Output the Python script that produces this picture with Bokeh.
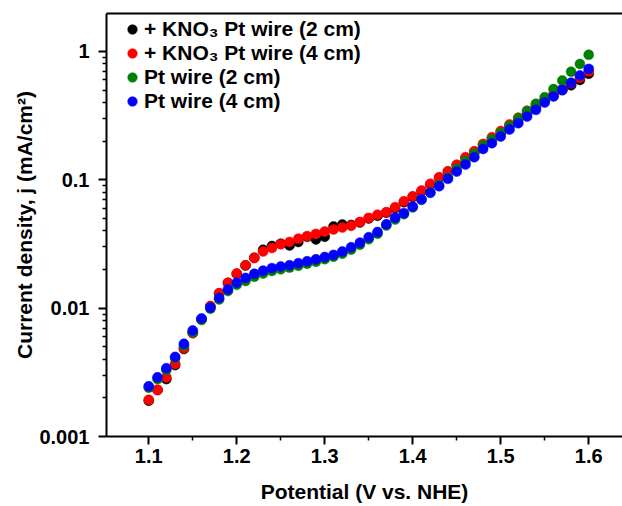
from bokeh.plotting import figure
from bokeh.models import (FixedTicker, LinearAxis, Legend, LegendItem, Range1d,
                          PrintfTickFormatter, ColumnDataSource)
from bokeh.embed import file_html
from bokeh.resources import INLINE

potential = [1.10, 1.11, 1.12, 1.13, 1.14, 1.15, 1.16, 1.17, 1.18, 1.19,
             1.20, 1.21, 1.22, 1.23, 1.24, 1.25, 1.26, 1.27, 1.28, 1.29,
             1.30, 1.31, 1.32, 1.33, 1.34, 1.35, 1.36, 1.37, 1.38, 1.39,
             1.40, 1.41, 1.42, 1.43, 1.44, 1.45, 1.46, 1.47, 1.48, 1.49,
             1.50, 1.51, 1.52, 1.53, 1.54, 1.55, 1.56, 1.57, 1.58, 1.59,
             1.60]

kno3_2cm = [0.0019, 0.0023, 0.0028, 0.0036, 0.0048, 0.0064, 0.0082, 0.0103, 0.0130, 0.0157,
            0.0185, 0.0215, 0.0247, 0.0285, 0.0305, 0.0318, 0.0308, 0.0328, 0.0360, 0.0343,
            0.0360, 0.0432, 0.0448, 0.0445, 0.0465, 0.0500, 0.0525, 0.0555, 0.0600, 0.0670,
            0.0735, 0.0815, 0.0920, 0.1035, 0.1155, 0.1300, 0.1480, 0.1650, 0.1870, 0.2080,
            0.2330, 0.2630, 0.2960, 0.3320, 0.3700, 0.4150, 0.4550, 0.5000, 0.5450, 0.6000,
            0.6700]

kno3_4cm = [0.00193, 0.00231, 0.00289, 0.00368, 0.00487, 0.0064, 0.0082, 0.0104, 0.0131, 0.0158,
            0.0186, 0.0216, 0.0246, 0.0276, 0.0294, 0.0315, 0.0328, 0.0348, 0.0364, 0.0379,
            0.0395, 0.0410, 0.0425, 0.0438, 0.0470, 0.0505, 0.0534, 0.0560, 0.0612, 0.0680,
            0.0745, 0.0825, 0.0930, 0.1048, 0.1167, 0.1310, 0.1500, 0.1670, 0.1906, 0.2150,
            0.2400, 0.2700, 0.3050, 0.3450, 0.3850, 0.4250, 0.4650, 0.5100, 0.5650, 0.6250,
            0.7000]

pt_2cm = [0.0024, 0.0028, 0.0033, 0.0041, 0.0051, 0.0065, 0.0081, 0.0099, 0.0117, 0.0136,
          0.0152, 0.0163, 0.0176, 0.0186, 0.0195, 0.0201, 0.0207, 0.0214, 0.0222, 0.0230,
          0.0241, 0.0252, 0.0266, 0.0286, 0.0312, 0.0345, 0.0380, 0.0440, 0.0490, 0.0540,
          0.0610, 0.0700, 0.0800, 0.0910, 0.1040, 0.1220, 0.1400, 0.1600, 0.1850, 0.2070,
          0.2330, 0.2630, 0.3020, 0.3430, 0.3910, 0.4400, 0.5100, 0.5940, 0.6950, 0.8000,
          0.9420]

pt_4cm = [0.00246, 0.00289, 0.0034, 0.00417, 0.00527, 0.0067, 0.0083, 0.0101, 0.0120, 0.0140,
          0.0158, 0.0172, 0.0185, 0.0196, 0.0205, 0.0211, 0.0216, 0.0224, 0.0232, 0.0240,
          0.0250, 0.0260, 0.0276, 0.0298, 0.0324, 0.0357, 0.0392, 0.0450, 0.0506, 0.0550,
          0.0619, 0.0702, 0.0792, 0.0891, 0.1018, 0.1160, 0.1316, 0.1500, 0.1740, 0.1930,
          0.2175, 0.2466, 0.2760, 0.3110, 0.3510, 0.4000, 0.4460, 0.5020, 0.5700, 0.6500,
          0.7320]

series_labels = ["+ KNO\u2083 Pt wire (2 cm)", "+ KNO\u2083 Pt wire (4 cm)",
                 "Pt wire (2 cm)", "Pt wire (4 cm)"]
series_colors = ["#000000", "#ff0000", "#008000", "#0000ff"]

x_ticks = [1.1, 1.2, 1.3, 1.4, 1.5, 1.6]
x_minor_ticks = [1.15, 1.25, 1.35, 1.45, 1.55]
y_ticks = [0.001, 0.01, 0.1, 1]
y_tick_labels = ["0.001", "0.01", "0.1", "1"]
y_minor_ticks = [0.002, 0.003, 0.004, 0.005, 0.006, 0.007, 0.008, 0.009,
                 0.02, 0.03, 0.04, 0.05, 0.06, 0.07, 0.08, 0.09,
                 0.2, 0.3, 0.4, 0.5, 0.6, 0.7, 0.8, 0.9]

FONT = "Liberation Sans"

p = figure(width=622, height=506, y_axis_type="log",
           x_range=Range1d(1.052, 1.6384), y_range=Range1d(0.001, 1.977),
           output_backend="svg", toolbar_location=None,
           min_border_left=106, min_border_right=0, min_border_top=13, min_border_bottom=70)
p.outline_line_color = None
p.xgrid.visible = False
p.ygrid.visible = False
p.background_fill_color = "white"

renderers = []
for vals, col in zip([kno3_2cm, kno3_4cm, pt_2cm, pt_4cm], series_colors):
    src = ColumnDataSource(dict(x=potential, y=vals))
    r = p.scatter("x", "y", source=src, size=10, fill_color=col, line_color=col, line_width=0.5)
    renderers.append(r)

for ax in (p.xaxis[0], p.yaxis[0]):
    ax.axis_line_width = 2
    ax.axis_line_color = "black"
    ax.major_tick_line_width = 2
    ax.minor_tick_line_width = 1.5
    ax.major_tick_in = 0
    ax.minor_tick_in = 0
    ax.major_tick_out = 8
    ax.minor_tick_out = 4
    ax.major_label_text_font = FONT
    ax.major_label_text_font_style = "bold"
    ax.major_label_text_font_size = "20px"
    ax.major_label_text_color = "black"
    ax.axis_label_text_font = FONT
    ax.axis_label_text_font_style = "bold"
    ax.axis_label_text_font_size = "21px"
    ax.axis_label_text_color = "black"

p.xaxis.ticker = FixedTicker(ticks=x_ticks, minor_ticks=x_minor_ticks)
p.xaxis.formatter = PrintfTickFormatter(format="%.1f")
p.xaxis.axis_label = "Potential (V vs. NHE)"
p.xaxis.major_label_standoff = 4
p.xaxis.axis_label_standoff = 14

p.yaxis.ticker = FixedTicker(ticks=y_ticks, minor_ticks=y_minor_ticks)
p.yaxis.major_label_overrides = {t: l for t, l in zip(y_ticks, y_tick_labels)}
p.yaxis.major_label_text_align = "right"
p.yaxis.axis_label = "Current density, j (mA/cm\u00b2)"
p.yaxis.major_label_standoff = 9
p.yaxis.axis_label_standoff = 0

top = LinearAxis(ticker=FixedTicker(ticks=[]), axis_line_width=2, axis_line_color="black",
                 major_tick_out=0, minor_tick_out=0, major_label_text_font_size="0px")
p.add_layout(top, "above")

items = [LegendItem(label=l, renderers=[r]) for l, r in zip(series_labels, renderers)]
legend = Legend(items=items, location=(14, 323), orientation="vertical",
                label_text_font=FONT, label_text_font_style="bold",
                label_text_font_size="21px", label_text_color="black",
                glyph_width=24, glyph_height=24, label_height=24, label_standoff=-4,
                spacing=0, padding=0, margin=0,
                border_line_color=None, background_fill_alpha=0)
p.add_layout(legend)

open("out.html", "w").write(file_html(p, INLINE))
